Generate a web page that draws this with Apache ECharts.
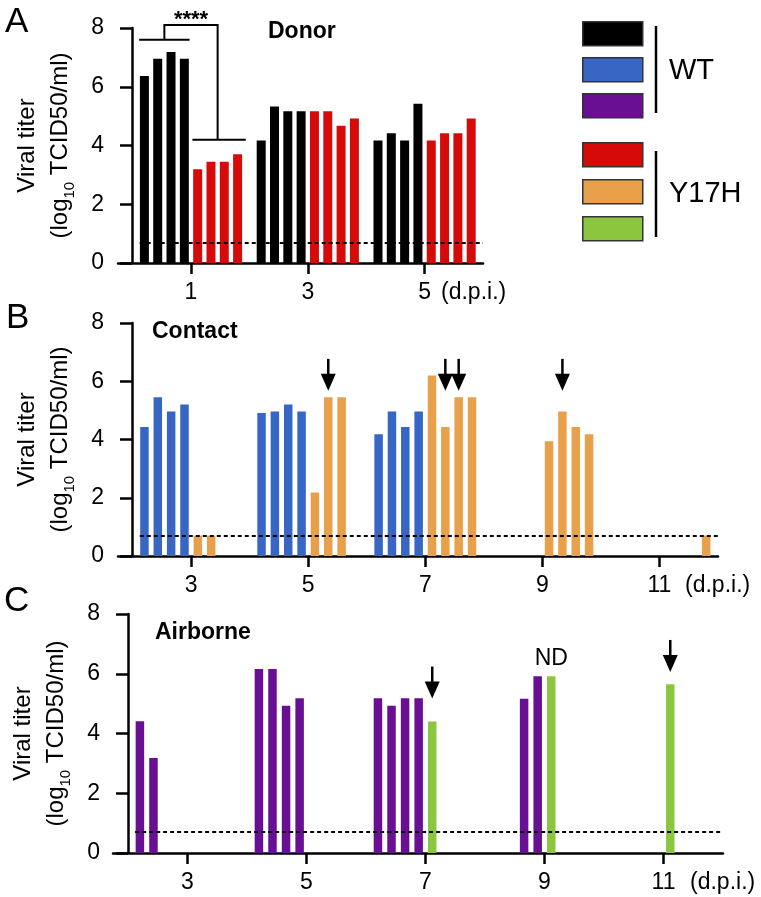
<!DOCTYPE html>
<html lang="en">
<head>
<meta charset="UTF-8">
<title>Viral titer</title>
<script src="https://cdn.jsdelivr.net/npm/echarts@6/dist/echarts.min.js"></script>
<style>html,body{margin:0;padding:0;background:#fff;}</style>
</head>
<body>
<div id="main" style="width:761px;height:897px;"></div>
<script type="text/javascript">
// days post inoculation
var donorDays = [1, 3, 5];
var transDays = [3, 5, 7, 9, 11];

// titer per day, one value per animal (null = no bar)
var donorWT = [[6.37, 6.95, 7.18, 6.95], [4.17, 5.33, 5.17, 5.17], [4.17, 4.42, 4.17, 5.42]];
var donorY17H = [[3.19, 3.45, 3.45, 3.70], [5.17, 5.17, 4.67, 4.92], [4.17, 4.42, 4.42, 4.92]];

var contactWT = [[4.43, 5.45, 4.96, 5.20], [4.91, 4.96, 5.20, 4.96], [4.18, 4.96, 4.43, 4.96],
    [null, null, null, null], [null, null, null, null]];
var contactY17H = [[0.7, 0.7, null, null], [2.18, 5.45, 5.45, null], [6.20, 4.43, 5.45, 5.45],
    [3.94, 4.96, 4.43, 4.18], [null, null, null, 0.7]];

var airborneWT = [[4.41, 3.18, null, null], [6.16, 6.16, 4.93, 5.18], [5.18, 4.93, 5.18, 5.18],
    [null, null, 5.16, 5.92], [null, null, null, null]];
var airborneY17H = [[null, null, null, null], [null, null, null, null], [4.40, null, null, null],
    [5.92, null, null, null], [5.65, null, null, null]];

var yTicks = [0, 2, 4, 6, 8];
var lod = 0.7;  // detection limit (dotted line)

// arrows: [day, slot, arrow tip titer]
var contactArrows = [[5, 6, 5.67], [7, 6, 5.67], [7, 7, 5.67], [9, 6, 5.67]];
var airborneArrows = [[7, 5, 5.17], [11, 5, 6.06]];
var airborneNotes = [[9, 5, 6.5, 'ND']];

// **** bracket on day 1
var sigDay = 1, sigLeftY = 7.6, sigTopY = 8.1, sigRightY = 4.2;

var cBlack = '#000000', cBlue = '#3866c4', cPurple = '#680f94',
    cRed = '#d70a0a', cOrange = '#e9a04b', cGreen = '#8cc63f';

var FONT = 'Liberation Sans';
var SLOT = 0.228; // day spacing between neighbouring bars, 8 slots per day

function slotX(day, slot) { return day + (slot - 4.5) * SLOT; }

function barData(days, vals, firstSlot) {
    var out = [];
    days.forEach(function (d, i) {
        vals[i].forEach(function (v, k) {
            if (v !== null) out.push([slotX(d, firstSlot + k), v]);
        });
    });
    return out;
}

function barSeries(idx, data, color, width) {
    return {
        type: 'bar', xAxisIndex: idx, yAxisIndex: idx, data: data,
        barWidth: width, barGap: '-100%', itemStyle: {color: color}, silent: true
    };
}

function lodLine(start, end) {
    return {
        silent: true, symbol: 'none', label: {show: false},
        lineStyle: {type: [4, 3], width: 2, color: '#000'},
        data: [[{coord: [start, lod]}, {coord: [end, lod]}]]
    };
}

function arrowSeries(idx, arrows, notes) {
    var data = arrows.map(function (a) { return [slotX(a[0], a[1]), a[2], '']; });
    (notes || []).forEach(function (n) { data.push([slotX(n[0], n[1]), n[2], n[3]]); });
    return {
        type: 'custom', xAxisIndex: idx, yAxisIndex: idx, clip: false, silent: true, z: 5,
        data: data,
        renderItem: function (params, api) {
            var p = api.coord([api.value(0), api.value(1)]);
            var note = data[params.dataIndex][2];
            if (note) {
                return {type: 'text', x: p[0], y: p[1], style: {text: note, fontSize: 23, fontFamily: FONT,
                    fill: '#000', align: 'center', verticalAlign: 'middle'}};
            }
            return {type: 'group', children: [
                {type: 'line', shape: {x1: p[0], y1: p[1] - 32, x2: p[0], y2: p[1] - 12},
                    style: {stroke: '#000', lineWidth: 2.5}},
                {type: 'polygon', shape: {points: [[p[0], p[1]], [p[0] - 7.5, p[1] - 17], [p[0] + 7.5, p[1] - 17]]},
                    style: {fill: '#000'}}
            ]};
        }
    };
}

var bracketSeries = {
    type: 'custom', xAxisIndex: 0, yAxisIndex: 0, clip: false, silent: true, z: 5,
    data: [[sigDay, sigTopY]],
    renderItem: function (params, api) {
        var d = sigDay;
        var l1 = api.coord([slotX(d, 1) - 0.09, sigLeftY]), l2 = api.coord([slotX(d, 4) + 0.09, sigLeftY]);
        var r1 = api.coord([slotX(d, 5) - 0.09, sigRightY]), r2 = api.coord([slotX(d, 8) + 0.14, sigRightY]);
        var jl = api.coord([d - 2 * SLOT, sigLeftY]), tl = api.coord([d - 2 * SLOT, sigTopY]);
        var tr = api.coord([d + 2 * SLOT, sigTopY]), jr = api.coord([d + 2 * SLOT, sigRightY]);
        var st = api.coord([d, sigTopY]);
        var ls = {stroke: '#000', lineWidth: 2, fill: null};
        return {type: 'group', children: [
            {type: 'line', shape: {x1: l1[0], y1: l1[1], x2: l2[0], y2: l2[1]}, style: ls},
            {type: 'line', shape: {x1: r1[0], y1: r1[1], x2: r2[0], y2: r2[1]}, style: ls},
            {type: 'polyline', shape: {points: [jl, tl, tr, jr]}, style: ls},
            {type: 'text', x: st[0], y: st[1] + 6, style: {text: '****', fontSize: 22, fontFamily: FONT,
                fontWeight: 'bold', fill: '#000', align: 'center', verticalAlign: 'bottom'}}
        ]};
    }
};

function xAxisOpt(idx, min, max, ticks, nameGap) {
    return {
        type: 'value', gridIndex: idx, min: min, max: max,
        axisLine: {lineStyle: {color: '#000', width: 2.5}},
        axisTick: {customValues: ticks, length: 11, lineStyle: {width: 2.5, color: '#000'}},
        axisLabel: {customValues: ticks, fontSize: 23, color: '#000', margin: 18, fontFamily: FONT},
        splitLine: {show: false},
        name: '(d.p.i.)', nameLocation: 'end', nameGap: nameGap,
        nameTextStyle: {fontSize: 23, color: '#000', fontFamily: FONT, align: 'left',
            verticalAlign: 'top', padding: [18, 0, 0, 0]}
    };
}

function yAxisOpt(idx, offset) {
    return {
        type: 'value', gridIndex: idx, min: 0, max: 8, interval: 2, offset: offset,
        axisLine: {show: true, onZero: false, lineStyle: {color: '#000', width: 2.5}},
        axisTick: {show: true, length: 12, lineStyle: {width: 2.5, color: '#000'}},
        axisLabel: {fontSize: 23, color: '#000', margin: 28, fontFamily: FONT,
            customValues: yTicks},
        splitLine: {show: false},
        name: 'Viral titer\n(log{sub|10} TCID50/ml)', nameLocation: 'middle', nameGap: 55,
        nameTextStyle: {fontSize: 24, color: '#000', fontFamily: FONT, lineHeight: 33,
            rich: {sub: {fontSize: 15, fontFamily: FONT, color: '#000', lineHeight: 16, verticalAlign: 'bottom'}}}
    };
}

function legendGraphics() {
    var cols = [cBlack, cBlue, cPurple, cRed, cOrange, cGreen];
    var tops = [21, 57, 93, 142, 179, 216];
    var g = cols.map(function (c, i) {
        return {type: 'rect', left: 582, top: tops[i], shape: {width: 60, height: 24},
            style: {fill: c, stroke: '#333', lineWidth: 1.5}};
    });
    g.push({type: 'line', shape: {x1: 656, y1: 26, x2: 656, y2: 113}, style: {stroke: '#000', lineWidth: 2.5}});
    g.push({type: 'line', shape: {x1: 656, y1: 151, x2: 656, y2: 237}, style: {stroke: '#000', lineWidth: 2.5}});
    g.push({type: 'text', x: 669, y: 71, style: {text: 'WT', fontSize: 29, fontFamily: FONT, fill: '#000', verticalAlign: 'middle'}});
    g.push({type: 'text', x: 669, y: 194, style: {text: 'Y17H', fontSize: 29, fontFamily: FONT, fill: '#000', verticalAlign: 'middle'}});
    return g;
}

var chart = echarts.init(document.getElementById('main'));

function t(text, left, top, size, weight) {
    return {text: text, left: left, top: top, padding: 0,
        textStyle: {fontFamily: FONT, color: '#000', fontSize: size, fontWeight: weight}};
}

var option = {
    animation: false,
    textStyle: {fontFamily: FONT},
    title: [
        t('A', 5, 5, 35, 'normal'),
        t('B', 6, 301, 35, 'normal'),
        t('C', 4, 584, 35, 'normal'),
        t('Donor', 268, 20, 23, 'bold'),
        t('Contact', 152, 320, 23, 'bold'),
        t('Airborne', 155, 621, 23, 'bold')
    ],
    grid: [
        {left: 118, top: 28, width: 365, height: 235, outerBoundsMode: 'none'},
        {left: 118, top: 323, width: 600, height: 233, outerBoundsMode: 'none'},
        {left: 113, top: 614, width: 610, height: 239, outerBoundsMode: 'none'}
    ],
    xAxis: [
        xAxisOpt(0, -0.25, 6, donorDays, -42),
        xAxisOpt(1, 1.75, 12, transDays, -33),
        xAxisOpt(2, 1.75, 12, transDays, -33)
    ],
    yAxis: [yAxisOpt(0, -14), yAxisOpt(1, -14), yAxisOpt(2, -15)],
    graphic: legendGraphics(),
    series: [
        Object.assign(barSeries(0, barData(donorDays, donorWT, 1), cBlack, 9),
            {markLine: lodLine(slotX(donorDays[0], 1) - 0.08, 6)}),
        barSeries(0, barData(donorDays, donorY17H, 5), cRed, 9),
        bracketSeries,

        Object.assign(barSeries(1, barData(transDays, contactWT, 1), cBlue, 8.5),
            {markLine: lodLine(slotX(transDays[0], 1) - 0.08, 12)}),
        barSeries(1, barData(transDays, contactY17H, 5), cOrange, 8.5),
        arrowSeries(1, contactArrows),

        Object.assign(barSeries(2, barData(transDays, airborneWT, 1), cPurple, 8.5),
            {markLine: lodLine(slotX(transDays[0], 1) - 0.08, 12)}),
        barSeries(2, barData(transDays, airborneY17H, 5), cGreen, 8.5),
        arrowSeries(2, airborneArrows, airborneNotes)
    ]
};

chart.setOption(option);
</script>
</body>
</html>
